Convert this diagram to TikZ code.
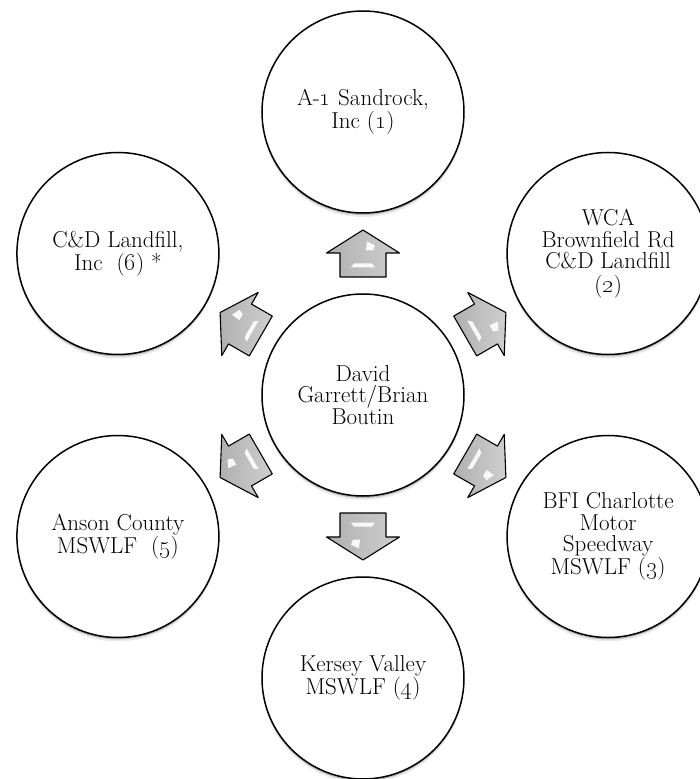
\documentclass[tikz,border=0pt]{standalone}
\usepackage{tikz}
\usetikzlibrary{calc,shadows}

\tikzset{
  site/.style={circle, draw, line width=1.5pt, fill=white, minimum size=202pt,
    inner sep=0pt, align=center, font=\fontsize{23}{21.5}\selectfont,
    drop shadow={shadow xshift=0pt, shadow yshift=-4pt, opacity=.08, fill=black},
    drop shadow={shadow xshift=0pt, shadow yshift=-2pt, opacity=.22, fill=black}},
  blockarrow/.style={draw, line width=1.1pt, line join=round,
    left color=gray!62, right color=gray!38},
  glint/.style={fill=white, draw=none, opacity=.9}
}
\newcommand{\osn}[1]{\oldstylenums{#1}}

\begin{document}
\begin{tikzpicture}[x=1pt, y=1pt]
    \clip (-363,-384) rectangle (337,395);

    % draw centre circle
    \node[site] (dg) at (0,0) {David\\Garrett/Brian\\Boutin};

    % draw outer circles
    \node[site] (s1) at (90:283) {A-\osn{1} Sandrock,\\Inc (\osn{1})};
    \node[site] (s2) at (30:283) {WCA\\Brownfield Rd\\C\&D Landfill\\[2pt](\osn{2})};
    \node[site] (s3) at (-30:283) {BFI Charlotte\\Motor\\Speedway\\MSWLF (\osn{3})};
    \node[site] (s4) at (-90:283) {Kersey Valley\\MSWLF (\osn{4})};
    \node[site] (s5) at (-150:283) {Anson County\\MSWLF~ (\osn{5})};
    \node[site] (s6) at (150:283) {C\&D Landfill,\\Inc~ (\osn{6}) *};

    % draw arrows
    \foreach \s/\a in {s1/90, s2/30, s3/-30, s4/-90, s5/-150, s6/150}
    {
      \begin{scope}[shift={($(dg)!0.5!(\s)$)}, rotate=\a]
        \draw[blockarrow] (-23.5,-23) -- (0.5,-23) -- (0.5,-36.5) -- (23.5,0)
          -- (0.5,36.5) -- (0.5,23) -- (-23.5,23) -- cycle;
        \fill[glint] (-14,-12) -- (-10,-9) -- (-10,9) -- (-14,12) -- cycle;
        \fill[glint] (3,-3) -- (12,-4) -- (8,-12) -- (3,-10) -- cycle;
      \end{scope}
    }
\end{tikzpicture}
\end{document}
